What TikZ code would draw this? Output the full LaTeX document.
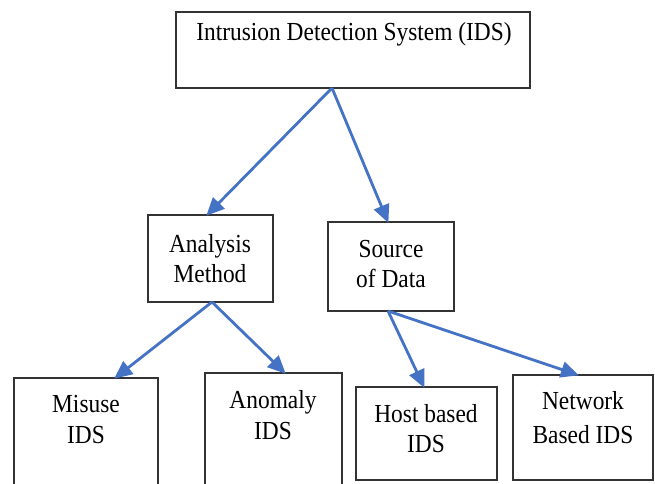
\documentclass[tikz,border=0pt]{standalone}
\usepackage{fontspec}
\setmainfont[FakeStretch=0.9]{Liberation Serif}
\usetikzlibrary{arrows.meta}
\definecolor{arrowblue}{HTML}{4472C4}
\definecolor{boxline}{HTML}{333333}
\begin{document}
\begin{tikzpicture}[x=1pt,y=-1pt,
  box/.style={draw=boxline, line width=1.2pt, fill=none, inner sep=0pt, outer sep=0pt, anchor=north west},
  lbl/.style={anchor=base, inner sep=0pt, font=\fontsize{26}{30}\selectfont, text=black},
  conn/.style={draw=arrowblue, line width=2.8pt, -{Triangle[length=18pt,width=16pt]}, shorten >=-1pt}
]
\useasboundingbox (0,0) rectangle (655,483);
\clip (0,0) rectangle (655,483);
\fill[white] (0,0) rectangle (655,483);

% boxes
\node[box, minimum width=354pt, minimum height=76pt] (ids) at (176,12) {};
\node[box, minimum width=125pt, minimum height=87pt] (analysis) at (148,215) {};
\node[box, minimum width=126pt, minimum height=89pt] (source) at (328,222) {};
\node[box, minimum width=144pt, minimum height=130pt] (misuse) at (14,378) {};
\node[box, minimum width=137pt, minimum height=135pt] (anomaly) at (205,373) {};
\node[box, minimum width=141pt, minimum height=93pt] (host) at (356,387) {};
\node[box, minimum width=140pt, minimum height=105pt] (network) at (513,375) {};

% texts
\node[lbl] (t1) at (354,40) {Intrusion Detection System (IDS)};
\node[lbl] (t2a) at (210,252) {Analysis};
\node[lbl] (t2b) at (210,282) {Method};
\node[lbl] (t3a) at (391,257) {Source};
\node[lbl] (t3b) at (391,287) {of Data};
\node[lbl] (t4a) at (86,412) {Misuse};
\node[lbl] (t4b) at (86,443) {IDS};
\node[lbl] (t5a) at (273,408) {Anomaly};
\node[lbl] (t5b) at (273,439) {IDS};
\node[lbl] (t6a) at (426,422) {Host based};
\node[lbl] (t6b) at (426,452) {IDS};
\node[lbl] (t7a) at (583,409) {Network};
\node[lbl] (t7b) at (583,443) {Based IDS};

% connectors
\path[conn] ([xshift=156pt]ids.south west) -- ([xshift=59pt]analysis.north west);
\path[conn] ([xshift=156pt]ids.south west) -- ([xshift=60pt]source.north west);
\path[conn] ([xshift=64pt]analysis.south west) -- ([xshift=101pt]misuse.north west);
\path[conn] ([xshift=64pt]analysis.south west) -- ([xshift=80pt]anomaly.north west);
\path[conn] ([xshift=60pt]source.south west) -- ([xshift=68pt]host.north west);
\path[conn] ([xshift=60pt]source.south west) -- ([xshift=65pt]network.north west);
\end{tikzpicture}
\end{document}
